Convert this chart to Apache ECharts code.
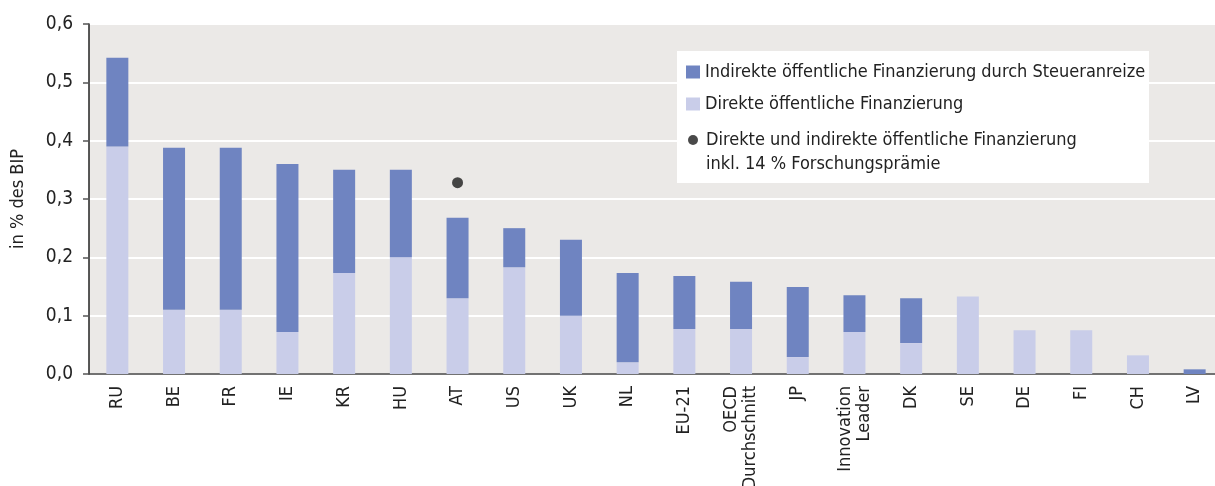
<!DOCTYPE html>
<html>
<head>
<meta charset="utf-8">
<script src="https://cdn.jsdelivr.net/npm/echarts@6/dist/echarts.min.js"></script>
<style>
html,body{margin:0;padding:0;background:#fff;}
#c{width:1215px;height:486px;}
</style>
</head>
<body>
<div id="c"></div>
<script>
const categories = ['RU','BE','FR','IE','KR','HU','AT','US','UK','NL','EU-21','OECD\nDurchschnitt','JP','Innovation\nLeader','DK','SE','DE','FI','CH','LV'];
const direkt =   [0.39,0.11,0.11,0.072,0.173,0.20,0.13,0.183,0.10,0.02,0.077,0.077,0.029,0.072,0.053,0.133,0.075,0.075,0.032,0];
const indirekt = [0.152,0.278,0.278,0.288,0.177,0.15,0.138,0.067,0.13,0.153,0.091,0.081,0.12,0.063,0.077,0,0,0,0,0.008];
const gesamtInklPraemie = ['-','-','-','-','-','-',0.328,'-','-','-','-','-','-','-','-','-','-','-','-','-'];
const yTicks = [0,0.1,0.2,0.3,0.4,0.5,0.6];

const nameIndirekt = 'Indirekte öffentliche Finanzierung durch Steueranreize';
const nameDirekt = 'Direkte öffentliche Finanzierung';
const namePunkt = 'Direkte und indirekte öffentliche Finanzierung\ninkl. 14 % Forschungsprämie';

const FONT = '"Liberation Sans Narrow","DejaVu Sans Condensed","Roboto Condensed",sans-serif';
const textCol = '#222';

const chart = echarts.init(document.getElementById('c'));
const legendText = {fontFamily: FONT, fontSize: 18, color: textCol};
chart.setOption({
  animation: false,
  textStyle: {fontFamily: FONT},
  grid: {left: 89, right: -8, top: 24, bottom: 112, show: true, backgroundColor: '#ebe9e7', borderWidth: 0,
         containLabel: false, outerBoundsMode: 'none'},
  graphic: [{type: 'rect', left: 677, top: 51, shape: {width: 472, height: 132}, style: {fill: '#fff'}, z: 5}],
  legend: [
    {data: [nameIndirekt], left: 686, top: 63, padding: 0, itemWidth: 14, itemHeight: 13, icon: 'rect', textStyle: legendText, z: 10, selectedMode: false},
    {data: [nameDirekt], left: 686, top: 95, padding: 0, itemWidth: 14, itemHeight: 13, icon: 'rect', textStyle: legendText, z: 10, selectedMode: false},
    {data: [namePunkt], left: 688, top: 104, padding: 0, itemWidth: 10, itemHeight: 10, icon: 'circle',
     formatter: n => '\n' + n,
     textStyle: Object.assign({}, legendText, {lineHeight: 24, padding: [0, 0, 0, 3]}), z: 10, selectedMode: false}
  ],
  xAxis: {
    type: 'category', data: categories,
    axisLine: {lineStyle: {color: '#444', width: 1.5}},
    axisTick: {length: 8, lineStyle: {color: '#444', width: 1.5}},
    axisLabel: {rotate: 90, interval: 0, fontSize: 18, color: textCol, margin: 12, lineHeight: 19, fontFamily: FONT}
  },
  yAxis: {
    type: 'value', min: 0, max: 0.6, interval: 0.1,
    name: 'in % des BIP', nameLocation: 'middle', nameGap: 62, nameRotate: 90,
    nameTextStyle: {fontSize: 18, color: textCol, fontFamily: FONT},
    axisLine: {show: true, lineStyle: {color: '#222', width: 1.5}},
    axisTick: {show: true, length: 6, lineStyle: {color: '#555', width: 1.5}},
    splitLine: {lineStyle: {color: '#fff', width: 2}},
    axisLabel: {fontSize: 19, color: textCol, margin: 16, fontFamily: FONT,
      formatter: v => yTicks.includes(Math.round(v*10)/10) ? v.toFixed(1).replace('.', ',') : ''}
  },
  series: [
    {name: nameDirekt, type: 'bar', stack: 't', data: direkt, barWidth: 22, itemStyle: {color: '#c9cde9'}},
    {name: nameIndirekt, type: 'bar', stack: 't', data: indirekt, barWidth: 22, itemStyle: {color: '#6f84c1'}},
    {name: namePunkt, type: 'scatter', data: gesamtInklPraemie, symbolSize: 11, itemStyle: {color: '#1c1c1c'}, z: 6}
  ]
});
</script>
</body>
</html>
